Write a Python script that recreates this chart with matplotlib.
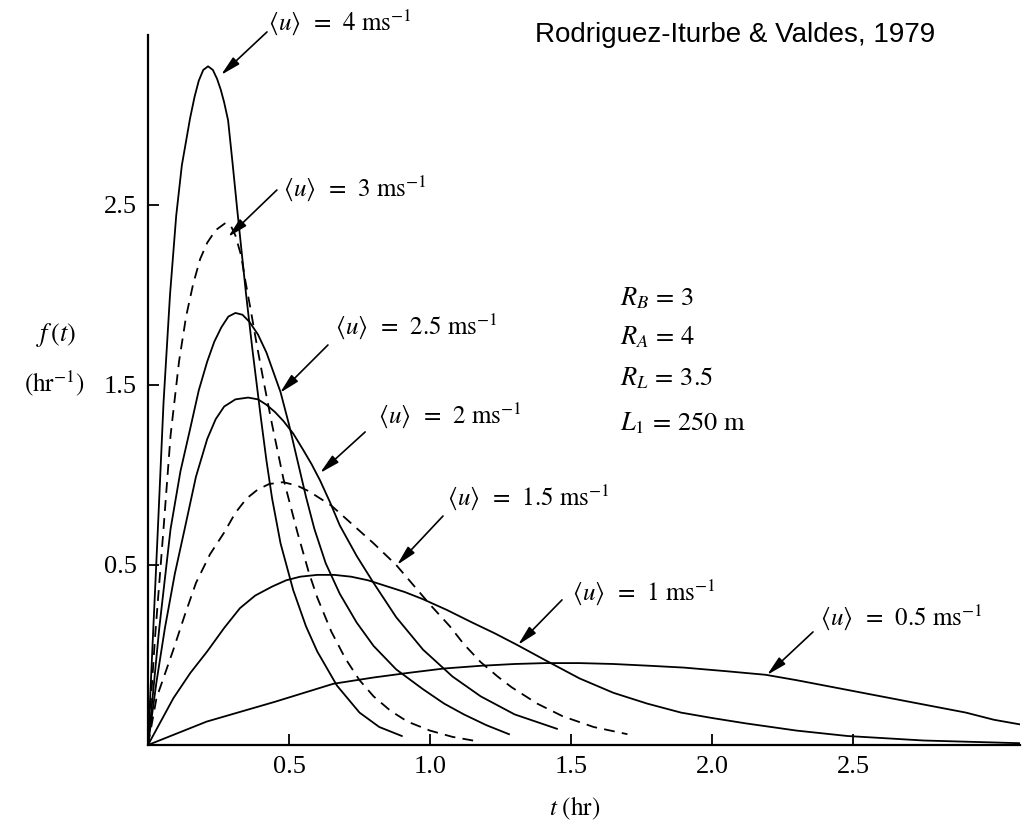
import matplotlib
matplotlib.use("Agg")
import matplotlib.pyplot as plt

plt.rcParams['mathtext.fontset'] = 'stix'
plt.rcParams['font.family'] = ['Liberation Serif', 'DejaVu Serif']

# ---- data ----
t_u4 = [0, 0.018, 0.035, 0.055, 0.078, 0.10, 0.12, 0.149, 0.165, 0.18, 0.196, 0.213, 0.23, 0.245, 0.258, 0.27, 0.284, 0.30, 0.316, 0.332, 0.348, 0.37, 0.40, 0.42, 0.44, 0.47, 0.515, 0.56, 0.60, 0.67, 0.75, 0.82, 0.90]
f_u4 = [0, 0.62, 1.20, 1.90, 2.50, 2.94, 3.22, 3.48, 3.60, 3.69, 3.75, 3.77, 3.75, 3.70, 3.64, 3.57, 3.47, 3.23, 2.98, 2.74, 2.50, 2.20, 1.82, 1.58, 1.37, 1.12, 0.86, 0.66, 0.52, 0.33, 0.18, 0.10, 0.05]

t_u3 = [0, 0.025, 0.055, 0.08, 0.11, 0.135, 0.16, 0.185, 0.21, 0.24, 0.275, 0.295, 0.31, 0.33, 0.345, 0.365, 0.385, 0.41, 0.44, 0.48, 0.53, 0.57, 0.60, 0.65, 0.70, 0.75, 0.80, 0.86, 0.92, 1.0, 1.08, 1.17]
f_u3 = [0, 0.60, 1.20, 1.72, 2.13, 2.38, 2.56, 2.70, 2.79, 2.86, 2.90, 2.88, 2.83, 2.72, 2.58, 2.41, 2.23, 2.02, 1.78, 1.48, 1.18, 0.96, 0.82, 0.63, 0.48, 0.36, 0.27, 0.19, 0.13, 0.08, 0.045, 0.02]

t_u25 = [0, 0.04, 0.08, 0.115, 0.15, 0.18, 0.21, 0.235, 0.26, 0.285, 0.31, 0.335, 0.36, 0.39, 0.42, 0.47, 0.50, 0.53, 0.56, 0.59, 0.63, 0.68, 0.74, 0.80, 0.88, 0.975, 1.05, 1.12, 1.20, 1.28]
f_u25 = [0, 0.65, 1.20, 1.52, 1.76, 1.97, 2.13, 2.24, 2.32, 2.38, 2.40, 2.39, 2.35, 2.28, 2.18, 1.96, 1.78, 1.58, 1.38, 1.20, 1.01, 0.84, 0.68, 0.55, 0.42, 0.31, 0.23, 0.17, 0.11, 0.06]

t_u2 = [0, 0.03, 0.06, 0.095, 0.13, 0.17, 0.21, 0.24, 0.27, 0.31, 0.355, 0.39, 0.42, 0.45, 0.48, 0.515, 0.55, 0.58, 0.61, 0.645, 0.68, 0.74, 0.80, 0.88, 0.975, 1.08, 1.18, 1.30, 1.45]
f_u2 = [0, 0.35, 0.65, 0.95, 1.20, 1.49, 1.70, 1.81, 1.88, 1.92, 1.93, 1.92, 1.89, 1.85, 1.80, 1.73, 1.64, 1.56, 1.47, 1.35, 1.22, 1.05, 0.90, 0.71, 0.53, 0.38, 0.27, 0.17, 0.09]

t_u15 = [0, 0.03, 0.09, 0.13, 0.17, 0.22, 0.27, 0.31, 0.35, 0.39, 0.43, 0.48, 0.53, 0.57, 0.60, 0.65, 0.70, 0.75, 0.80, 0.88, 0.94, 1.0, 1.07, 1.12, 1.18, 1.24, 1.29, 1.38, 1.47, 1.58, 1.70]
f_u15 = [0, 0.26, 0.53, 0.72, 0.90, 1.06, 1.18, 1.29, 1.37, 1.42, 1.45, 1.46, 1.44, 1.41, 1.38, 1.33, 1.26, 1.19, 1.12, 1.0, 0.89, 0.78, 0.66, 0.56, 0.46, 0.38, 0.32, 0.23, 0.16, 0.10, 0.06]

t_u1 = [0, 0.09, 0.15, 0.21, 0.27, 0.326, 0.38, 0.44, 0.49, 0.54, 0.60, 0.66, 0.72, 0.78, 0.85, 0.91, 0.975, 1.06, 1.15, 1.23, 1.31, 1.41, 1.53, 1.65, 1.77, 1.89, 2.0, 2.12, 2.30, 2.48, 2.75, 3.09]
f_u1 = [0, 0.26, 0.40, 0.52, 0.65, 0.76, 0.83, 0.88, 0.915, 0.935, 0.945, 0.945, 0.935, 0.915, 0.88, 0.85, 0.81, 0.75, 0.68, 0.62, 0.555, 0.47, 0.37, 0.29, 0.23, 0.18, 0.15, 0.12, 0.08, 0.05, 0.025, 0.01]

t_u05 = [0, 0.208, 0.45, 0.657, 0.80, 0.92, 1.05, 1.18, 1.30, 1.41, 1.53, 1.65, 1.78, 1.90, 2.05, 2.19, 2.30, 2.40, 2.50, 2.60, 2.70, 2.80, 2.90, 3.00, 3.09]
f_u05 = [0, 0.13, 0.24, 0.34, 0.375, 0.40, 0.425, 0.44, 0.45, 0.455, 0.455, 0.45, 0.44, 0.43, 0.41, 0.39, 0.36, 0.33, 0.30, 0.27, 0.24, 0.21, 0.18, 0.14, 0.115]

x_ticks = [0.5, 1.0, 1.5, 2.0, 2.5]
x_ticklabels = ['0.5', '1.0', '1.5', '2.0', '2.5']
y_ticks = [1, 2, 3]
y_ticklabels = ['0.5', '1.5', '2.5']

speed_labels = ['4', '3', '2.5', '2', '1.5', '1', '0.5']

W, H = 1031, 832
fig = plt.figure(figsize=(W / 100, H / 100), dpi=100)
ax = fig.add_axes([148 / W, 1 - 745 / H, (1020 - 148) / W, (745 - 35) / H])
ax.set_xlim(0, 3.092)
ax.set_ylim(0, 3.944)

lw = 1.3
series = [
    (t_u4, f_u4, '-'), (t_u3, f_u3, '--'), (t_u25, f_u25, '-'), (t_u2, f_u2, '-'),
    (t_u15, f_u15, '--'), (t_u1, f_u1, '-'), (t_u05, f_u05, '-'),
]
for t, f, ls in series:
    line, = ax.plot(t, f, color='black', lw=lw, linestyle=ls, solid_joinstyle='round')
    if ls == '--':
        line.set_dashes((6, 4))

for s in ['top', 'right']:
    ax.spines[s].set_visible(False)
for s in ['left', 'bottom']:
    ax.spines[s].set_linewidth(1.6)

ax.set_xticks(x_ticks)
ax.set_xticklabels(x_ticklabels)
ax.set_yticks(y_ticks)
ax.set_yticklabels(y_ticklabels)
ax.tick_params(direction='in', length=8, width=1.3, labelsize=19, pad=8)

# annotations: (text pos, arrow tail, arrow tip) in data coords
ann = [
    ((0.426, 4.017), (0.422, 3.961), (0.259, 3.722)),
    ((0.479, 3.094), (0.457, 3.083), (0.284, 2.822)),
    ((0.663, 2.328), (0.638, 2.222), (0.468, 1.956)),
    ((0.816, 1.833), (0.770, 1.739), (0.610, 1.511)),
    ((1.060, 1.378), (1.046, 1.272), (0.883, 1.000)),
    ((1.504, 0.850), (1.468, 0.806), (1.312, 0.556)),
    ((2.383, 0.711), (2.358, 0.628), (2.195, 0.389)),
]
for lab, (tp, tail, tip) in zip(speed_labels, ann):
    ax.text(tp[0], tp[1], r'$\langle u\rangle\ \,=\ \,' + lab + r'\ \mathrm{ms}^{-1}$',
            fontsize=18, ha='left', va='center', clip_on=False)
    ax.annotate('', xy=tip, xytext=tail, annotation_clip=False,
                arrowprops=dict(arrowstyle='-|>,head_length=0.6,head_width=0.14',
                                mutation_scale=20, lw=1.2, color='black',
                                shrinkA=0, shrinkB=0))

params = [r'$R_B\,=\,3$', r'$R_A\,=\,4$', r'$R_L\,=\,3.5$', r'$L_1\,=\,250\ \mathrm{m}$']
param_y = [2.483, 2.267, 2.039, 1.789]
for p, yy in zip(params, param_y):
    ax.text(1.674, yy, p, fontsize=19, ha='left', va='center')

fig.text(76 / W, 1 - 335 / H, r'$f\,(t)$', fontsize=19, ha='right', va='center')
fig.text(84 / W, 1 - 383 / H, r'$(\mathrm{hr}^{-1})$', fontsize=18, ha='right', va='center')
fig.text(575 / W, 1 - 808 / H, r'$t\ (\mathrm{hr})$', fontsize=18, ha='center', va='center')

fig.text(535 / W, 1 - 35 / H, 'Rodriguez-Iturbe & Valdes, 1979', fontsize=20,
         family='Liberation Sans', ha='left', va='center')

fig.savefig('out.png', dpi=100)
